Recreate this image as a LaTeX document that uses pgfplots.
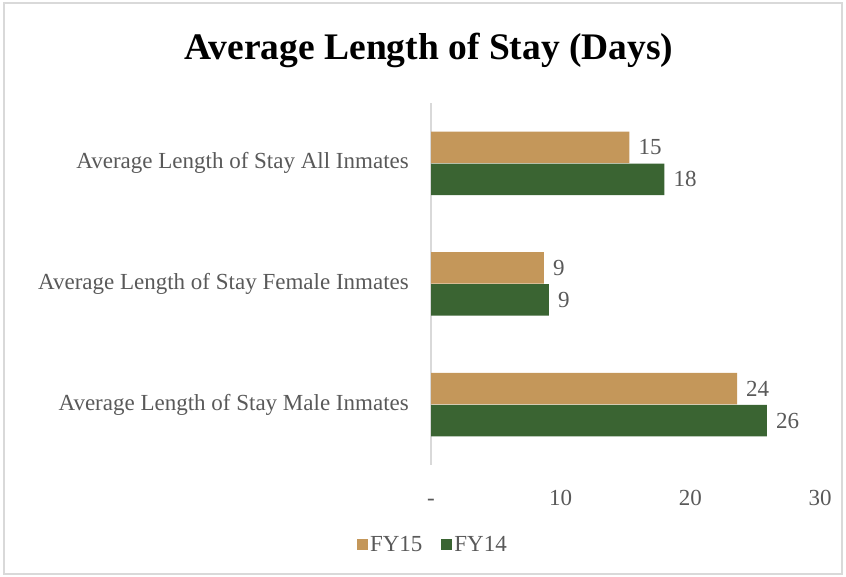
\documentclass[border=0pt]{standalone}
\usepackage{pgfplots}
\pgfplotsset{compat=1.18}
\usepackage{fontspec}
\setmainfont{Liberation Serif}
\definecolor{tanbar}{HTML}{C4975A}
\definecolor{greenbar}{HTML}{3A6432}
\definecolor{labelgray}{HTML}{595959}
\definecolor{axisgray}{HTML}{D9D9D9}
\begin{document}
\begin{tikzpicture}[x=1pt,y=1pt]
\path[use as bounding box] (0,0) rectangle (846,577);
\draw[axisgray, line width=1.2pt] (4,3) rectangle (842,574);
\node[font=\fontsize{37.5}{40}\selectfont\bfseries, anchor=center] at (429,527) {Average Length of Stay (Days)};
\begin{axis}[
  at={(431pt,112pt)}, anchor=south west,
  scale only axis, width=389pt, height=362pt,
  xmin=0, xmax=30, ymin=-0.5, ymax=2.5,
  axis lines*=left,
  x axis line style={draw=none},
  y axis line style={axisgray, line width=1.5pt},
  major tick length=0pt,
  xtick={0,10,20,30}, xticklabels={-,10,20,30},
  ytick={0,1,2},
  yticklabels={Average Length of Stay Male Inmates,Average Length of Stay Female Inmates,Average Length of Stay All Inmates\hspace{6pt}},
  xticklabel style={font=\fontsize{23}{26}\selectfont, text=labelgray, anchor=north, inner sep=0pt, text height=15pt, text depth=0pt, yshift=-25pt},
  yticklabel style={font=\fontsize{23}{26}\selectfont, text=labelgray, anchor=east, inner sep=0pt, xshift=-22pt},
  xbar, bar width=31.5pt,
  nodes near coords,
  /pgf/number format/fixed, /pgf/number format/precision=0,
  /pgf/number format/assume math mode=true,
  nodes near coords style={font=\fontsize{23}{26}\selectfont, text=labelgray, anchor=west, inner sep=0pt, xshift=9pt},
  legend style={at={(0.005,-0.221)}, anchor=center, draw=none, fill=none, legend columns=2,
    font=\fontsize{23}{26}\selectfont, text=labelgray,
    /tikz/every even column/.append style={column sep=17pt}},
  legend image code/.code={\fill[#1] (0pt,-5.5pt) rectangle (11pt,5.5pt);},
  clip=false,
]
\addplot[fill=tanbar, draw=none, bar shift=16pt] coordinates {(23.6,0) (8.7,1) (15.3,2)};
\addlegendentry{FY15}
\addplot[fill=greenbar, draw=none, bar shift=-16pt] coordinates {(25.9,0) (9.1,1) (18.0,2)};
\addlegendentry{FY14}
\end{axis}
\end{tikzpicture}
\end{document}
